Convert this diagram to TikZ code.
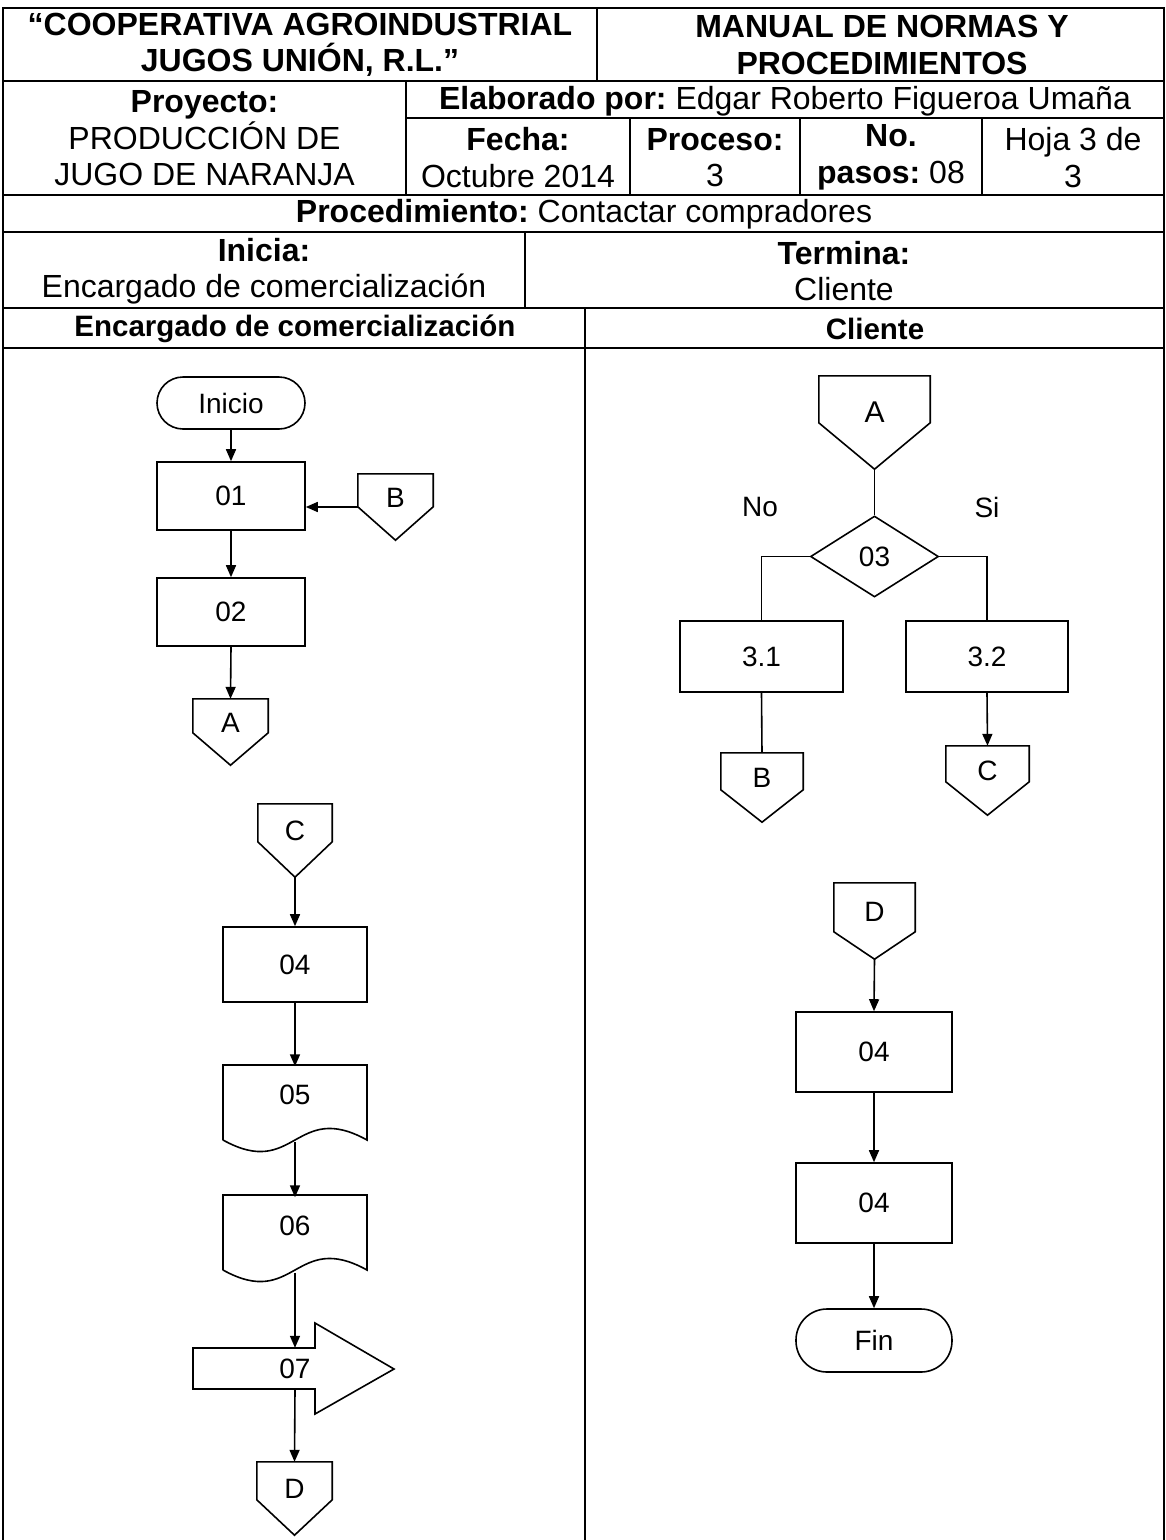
\documentclass[tikz,border=0pt]{standalone}
\usepackage{fontspec}
\setmainfont{Liberation Sans}
\usetikzlibrary{arrows.meta,calc,shapes.geometric}

\newcommand\hdrfont{\fontsize{32}{36.5}\selectfont\frenchspacing}
\newcommand\lanefont{\fontsize{29.5}{34}\selectfont\frenchspacing}
\newcommand\flowfont{\fontsize{28}{32}\selectfont}

% off-page connector: name, x, y (centre), width, straight part, point depth, label
\newcommand\offpage[7]{%
  \node[conn, minimum width=#4pt, minimum height={#5pt+#6pt}] (#1) at (#2,#3) {#7};
  \draw[flow] (#1.north west) -- (#1.north east) -- ++(0,#5) -- (#1.south)
    -- ($(#1.north west)+(0,#5)$) -- cycle;}

\begin{document}
\begin{tikzpicture}[x=1pt,y=-1pt,
  tbl/.style={line width=1.8pt},
  flow/.style={line width=1.6pt},
  arr/.style={flow,-{Triangle[length=12pt,width=10pt]}},
  hdr/.style={font=\hdrfont,align=center,inner sep=0pt},
  lane/.style={font=\lanefont,inner sep=0pt},
  proc/.style={draw,flow,rectangle,inner sep=0pt,font=\flowfont},
  term/.style={proc},
  conn/.style={rectangle,draw=none,inner sep=0pt,text height=0pt,text depth=0pt,font=\flowfont},
  lbl/.style={font=\flowfont,inner sep=0pt},
  dec/.style={draw,flow,diamond,inner sep=0pt,font=\flowfont}]

\useasboundingbox (0,0) rectangle (1166,1540);

% ---------- form header ----------
\draw[tbl] (3,1540) -- (3,8) -- (1164,8) -- (1164,1540);
\draw[tbl] (3,81) -- (1164,81);
\draw[tbl] (406,118) -- (1164,118);
\draw[tbl] (3,195) -- (1164,195);
\draw[tbl] (3,232) -- (1164,232);
\draw[tbl] (3,308) -- (1164,308);
\draw[tbl] (3,348) -- (1164,348);
\draw[tbl] (597,8) -- (597,81);
\draw[tbl] (406,81) -- (406,195);
\draw[tbl] (630,118) -- (630,195);
\draw[tbl] (800,118) -- (800,195);
\draw[tbl] (982,118) -- (982,195);
\draw[tbl] (525,232) -- (525,308);
\draw[tbl] (585,308) -- (585,1540);

\node[hdr] (coop) at (300,45) {\textbf{“COOPERATIVA AGROINDUSTRIAL}\\\textbf{JUGOS UNIÓN, R.L.”}};
\node[hdr] (manual) at (882,45) {\textbf{MANUAL DE NORMAS Y}\\\textbf{PROCEDIMIENTOS}};
\node[hdr] (proy) at (204.5,138.5) {\textbf{Proyecto:}\\PRODUCCIÓN DE\\JUGO DE NARANJA};
\node[hdr] (elab) at (785,101) {\textbf{Elaborado por:} Edgar Roberto Figueroa Umaña};
\node[hdr] (fecha) at (518,157.5) {\textbf{Fecha:}\\Octubre 2014};
\node[hdr] (proc) at (715,157.5) {\textbf{Proceso:}\\3};
\node[hdr] (pasos) at (891,157.5) {\textbf{No.}\\\textbf{pasos:} 08};
\node[hdr] (hoja) at (1073,157.5) {Hoja 3 de\\3};
\node[hdr] (pdto) at (584,214) {\textbf{Procedimiento:} Contactar compradores};
\node[hdr] (inicia) at (264,271) {\textbf{Inicia:}\\Encargado de comercialización};
\node[hdr] (termina) at (844,271) {\textbf{Termina:}\\Cliente};
\node[lane] (lane1) at (295,329) {\textbf{Encargado de comercialización}};
\node[lane] (lane2) at (875,329) {\textbf{Cliente}};

% ---------- lane: Encargado de comercialización ----------
\node[term, rounded corners=26pt, minimum width=148pt, minimum height=52pt] (ini) at (231,403) {Inicio};
\node[proc, minimum width=148pt, minimum height=68pt] (p01) at (231,496) {01};
\node[proc, minimum width=148pt, minimum height=68pt] (p02) at (231,612) {02};
\offpage{bin}{395.5}{507}{75}{33}{33}{B}
\offpage{aout}{230.5}{732}{75}{34}{32}{A}

\offpage{cin}{295}{840.5}{74}{38}{35}{C}
\node[proc, minimum width=144pt, minimum height=75pt] (p04) at (295,964.5) {04};
\node[conn, minimum width=144pt, minimum height=75pt] (d05) at (295,1104) {05};
\draw[flow] (223,1140) -- (223,1065) -- (367,1065) -- (367,1140)
  .. controls (295,1100) and (295,1180) .. (223,1140);
\node[conn, minimum width=144pt, minimum height=75pt] (d06) at (295,1235) {06};
\draw[flow] (223,1270) -- (223,1195) -- (367,1195) -- (367,1270)
  .. controls (295,1230) and (295,1310) .. (223,1270);
\node[rectangle, inner sep=0pt, minimum width=2pt, minimum height=41pt, font=\flowfont] (s07) at (295,1368.5) {07};
\draw[flow] (193,1348) -- (315,1348) -- (315,1323) -- (394,1369)
  -- (315,1414) -- (315,1389) -- (193,1389) -- cycle;
\offpage{dout}{294.5}{1498.5}{75}{38}{35}{D}

\draw[arr] (ini.south) -- (p01.north);
\draw[arr] (bin.west) -- (bin.west -| p01.east);
\draw[arr] (p01.south) -- (p02.north);
\draw[arr] (p02.south) -- (aout.north);
\draw[arr] (cin.south) -- (p04.north);
\draw[arr] (p04.south) -- (d05.north);
\draw[arr] (d05.south) -- (d06.north);
\draw[arr] (d06.south) -- (s07.north);
\draw[arr] (s07.south) -- (dout.north);

% ---------- lane: Cliente ----------
\offpage{ain}{874.5}{422.5}{111}{47}{46}{\fontsize{30}{34}\selectfont A}
\node[dec, minimum width=128pt, minimum height=81pt] (q03) at (874.5,556.5) {03};
\node[lbl] (no) at (760,507) {No};
\node[lbl] (si) at (987,507) {Si};
\node[proc, minimum width=163pt, minimum height=71pt] (p31) at (761.5,656.5) {3.1};
\node[proc, minimum width=162pt, minimum height=71pt] (p32) at (987,656.5) {3.2};
\offpage{bout}{762}{787.5}{82}{37}{32}{B}
\offpage{cout}{987.5}{780.5}{83}{36}{33}{C}

\offpage{din}{874.5}{921}{81}{49}{27}{D}
\node[proc, minimum width=156pt, minimum height=80pt] (p04a) at (874,1052) {04};
\node[proc, minimum width=156pt, minimum height=80pt] (p04b) at (874,1203) {04};
\node[term, rounded corners=31pt, minimum width=156pt, minimum height=63pt] (fin) at (874,1340.5) {Fin};

\draw[flow] (ain.south) -- (q03.north);
\draw[flow] (q03.west) -| (p31.north);
\draw[flow] (q03.east) -| (p32.north);
\draw[flow] (p31.south) -- (bout.north);
\draw[arr] (p32.south) -- (cout.north);
\draw[arr] (din.south) -- (p04a.north);
\draw[arr] (p04a.south) -- (p04b.north);
\draw[arr] (p04b.south) -- (fin.north);
\end{tikzpicture}
\end{document}
